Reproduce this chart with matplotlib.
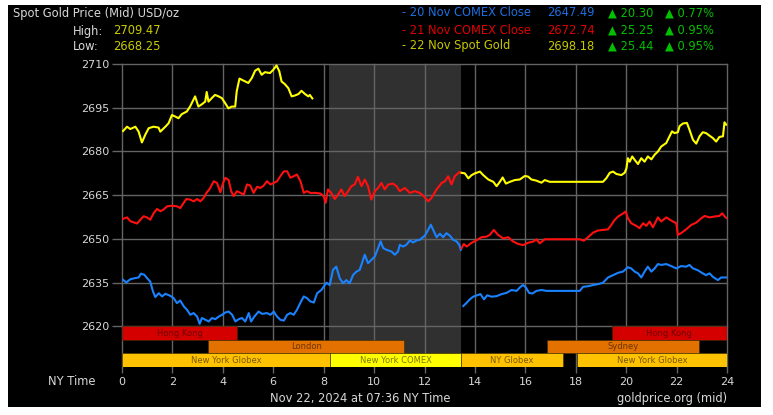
import matplotlib
matplotlib.use("Agg")
import matplotlib.pyplot as plt
from matplotlib.patches import Rectangle

# --- price traces (NY time in hours, USD/oz) ---
# 22 Nov spot gold, morning
yellow_hours_a = [0.04, 0.2, 0.33, 0.53, 0.66, 0.79, 0.92, 1.06, 1.25, 1.45, 1.52, 1.72, 1.85, 1.98,
                  2.11, 2.24, 2.37, 2.57, 2.7, 2.9, 3.03, 3.17, 3.3, 3.36, 3.43, 3.56, 3.69, 3.83,
                  3.96, 4.09, 4.22, 4.35, 4.49, 4.55, 4.66, 4.82, 5.01, 5.15, 5.28, 5.41, 5.54, 5.67,
                  5.87, 6.0, 6.13, 6.24, 6.33, 6.46, 6.6, 6.73, 6.86, 7.0, 7.12, 7.26, 7.39, 7.45, 7.55]
yellow_prices_a = [2687.0, 2688.5, 2687.7, 2688.5, 2686.8, 2683.1, 2685.7, 2688.0, 2688.5, 2688.2,
                   2686.8, 2688.5, 2689.7, 2692.5, 2692.0, 2691.4, 2692.8, 2693.7, 2695.4, 2698.9,
                   2695.4, 2696.2, 2697.1, 2700.4, 2697.1, 2698.3, 2699.4, 2698.9, 2698.3, 2696.6,
                   2694.8, 2695.4, 2695.4, 2700.6, 2705.0, 2704.3, 2703.5, 2705.2, 2707.7, 2708.4,
                   2706.3, 2707.2, 2706.9, 2708.0, 2709.5, 2707.5, 2704.0, 2703.1, 2701.7, 2698.9,
                   2699.2, 2699.7, 2700.8, 2699.7, 2698.9, 2699.4, 2698.2]
# 21 Nov spot gold, afternoon
yellow_hours_b = [13.47, 13.6, 13.74, 13.87, 14.0, 14.2, 14.33, 14.53, 14.73, 14.86, 14.99, 15.1,
                  15.23, 15.39, 15.58, 15.78, 15.98, 16.11, 16.24, 16.44, 16.64, 16.77, 16.97, 19.08,
                  19.21, 19.35, 19.48, 19.61, 19.81, 19.94, 20.01, 20.07, 20.14, 20.24, 20.34, 20.47,
                  20.6, 20.73, 20.86, 21.0, 21.13, 21.26, 21.39, 21.59, 21.72, 21.82, 21.92, 22.05,
                  22.12, 22.25, 22.41, 22.51, 22.65, 22.78, 22.91, 23.04, 23.17, 23.31, 23.44, 23.57,
                  23.7, 23.84, 23.9, 23.97]
yellow_prices_b = [2672.7, 2672.5, 2670.8, 2671.9, 2672.5, 2673.1, 2671.9, 2670.4, 2669.6, 2668.1,
                   2669.6, 2671.1, 2669.0, 2669.6, 2670.2, 2670.4, 2671.6, 2671.4, 2670.4, 2670.0,
                   2669.3, 2670.2, 2669.6, 2669.6, 2670.8, 2672.7, 2673.1, 2672.3, 2671.9, 2672.7,
                   2674.2, 2677.7, 2676.5, 2678.3, 2677.1, 2675.7, 2677.7, 2676.5, 2678.3, 2677.3,
                   2678.9, 2680.0, 2681.7, 2682.9, 2685.2, 2686.9, 2686.3, 2686.6, 2688.7, 2689.6,
                   2689.8, 2687.5, 2684.0, 2682.7, 2685.2, 2686.6, 2686.3, 2685.4, 2684.6, 2683.4,
                   2685.0, 2685.2, 2690.0, 2689.2]

# 21 Nov COMEX session
red_hours_a = [0.04, 0.2, 0.33, 0.46, 0.6, 0.73, 0.86, 0.99, 1.12, 1.26, 1.39, 1.52, 1.65, 1.79,
               1.98, 2.18, 2.31, 2.45, 2.55, 2.71, 2.84, 2.98, 3.11, 3.24, 3.35, 3.48, 3.64, 3.77,
               3.9, 4.01, 4.1, 4.23, 4.33, 4.43, 4.56, 4.7, 4.83, 4.96, 5.09, 5.22, 5.36, 5.49,
               5.62, 5.75, 5.89, 6.02, 6.15, 6.28, 6.42, 6.55, 6.68, 6.81, 6.94, 7.08, 7.21, 7.34,
               7.47, 7.67, 7.87, 8.0, 8.08, 8.17, 8.3, 8.44, 8.57, 8.7, 8.83, 8.97, 9.1, 9.23,
               9.36, 9.5, 9.63, 9.76, 9.89, 10.03, 10.16, 10.29, 10.42, 10.56, 10.75, 10.89, 11.02,
               11.22, 11.42, 11.62, 11.81, 11.97, 12.15, 12.28, 12.48, 12.68, 12.81, 12.94, 13.07,
               13.2, 13.38, 13.47]
red_prices_a = [2656.9, 2657.4, 2656.1, 2655.7, 2655.3, 2656.6, 2657.8, 2657.4, 2656.6, 2658.9,
                2660.3, 2659.5, 2660.1, 2661.2, 2661.4, 2661.2, 2660.6, 2662.4, 2663.7, 2663.5,
                2662.9, 2663.7, 2662.9, 2664.1, 2665.8, 2667.2, 2669.8, 2669.2, 2666.0, 2669.2,
                2671.0, 2670.2, 2666.4, 2664.7, 2666.4, 2665.8, 2665.2, 2668.7, 2668.3, 2665.8,
                2667.9, 2667.5, 2668.3, 2669.8, 2668.7, 2669.2, 2669.8, 2671.5, 2673.2, 2673.2,
                2671.0, 2671.5, 2672.1, 2669.8, 2665.8, 2666.4, 2665.8, 2665.8, 2665.6, 2664.7,
                2662.4, 2667.0, 2665.8, 2663.7, 2665.2, 2667.0, 2664.7, 2666.4, 2668.1, 2668.7,
                2671.3, 2668.1, 2670.4, 2668.1, 2663.5, 2666.4, 2667.5, 2669.2, 2667.0, 2668.7,
                2669.0, 2668.1, 2666.4, 2667.5, 2665.8, 2666.4, 2665.8, 2664.7, 2662.9, 2664.1,
                2667.0, 2669.2, 2669.8, 2671.5, 2668.7, 2671.5, 2672.9, 2672.7]
# 20 Nov afternoon
red_hours_b = [13.47, 13.56, 13.67, 13.87, 14.07, 14.26, 14.46, 14.59, 14.75, 14.92, 15.12, 15.32,
               15.52, 15.72, 15.91, 16.11, 16.31, 16.44, 16.57, 16.77, 16.97, 18.16, 18.32, 18.49,
               18.69, 18.88, 19.08, 19.28, 19.41, 19.54, 19.68, 19.85, 19.98, 20.07, 20.2, 20.4,
               20.53, 20.67, 20.8, 20.93, 21.06, 21.26, 21.39, 21.59, 21.72, 21.85, 21.99, 22.05,
               22.18, 22.38, 22.58, 22.78, 22.98, 23.11, 23.31, 23.51, 23.7, 23.81, 23.94, 24.0]
red_prices_b = [2646.8, 2648.3, 2647.4, 2648.7, 2649.6, 2650.6, 2650.8, 2651.4, 2653.1, 2651.4,
                2650.2, 2650.6, 2649.1, 2648.3, 2647.9, 2648.7, 2649.1, 2649.9, 2648.5, 2649.9,
                2649.9, 2649.9, 2649.4, 2650.6, 2652.2, 2652.9, 2653.1, 2653.3, 2654.8, 2656.5,
                2657.7, 2658.6, 2659.4, 2657.1, 2655.4, 2654.5, 2653.7, 2655.4, 2654.5, 2656.0,
                2654.0, 2657.4, 2656.0, 2657.4, 2656.7, 2656.0, 2655.4, 2651.4, 2652.0, 2653.3,
                2654.8, 2655.6, 2657.1, 2657.9, 2657.4, 2657.7, 2657.9, 2658.8, 2657.4, 2657.1]

# 20 Nov COMEX session
blue_hours_a = [0.04, 0.17, 0.33, 0.53, 0.66, 0.75, 0.89, 0.99, 1.12, 1.23, 1.32, 1.46, 1.59, 1.72,
                1.92, 2.05, 2.18, 2.31, 2.45, 2.58, 2.71, 2.84, 2.98, 3.08, 3.17, 3.31, 3.44, 3.57,
                3.7, 3.84, 3.97, 4.1, 4.23, 4.37, 4.5, 4.63, 4.76, 4.89, 5.03, 5.12, 5.25, 5.42,
                5.56, 5.75, 5.89, 6.02, 6.15, 6.28, 6.42, 6.55, 6.68, 6.81, 6.94, 7.08, 7.21, 7.34,
                7.47, 7.61, 7.74, 7.91, 8.11, 8.24, 8.37, 8.5, 8.64, 8.77, 8.9, 9.03, 9.17, 9.3,
                9.43, 9.56, 9.63, 9.76, 9.89, 10.03, 10.16, 10.26, 10.36, 10.49, 10.69, 10.82, 10.95,
                11.02, 11.15, 11.28, 11.42, 11.55, 11.68, 11.81, 12.01, 12.15, 12.25, 12.34, 12.48,
                12.61, 12.74, 12.87, 13.01, 13.14, 13.27, 13.38, 13.44]
blue_prices_a = [2636.0, 2635.1, 2636.2, 2636.6, 2636.8, 2638.1, 2637.7, 2636.6, 2635.4, 2632.0,
                 2630.1, 2631.4, 2630.3, 2631.2, 2630.5, 2629.7, 2628.0, 2628.9, 2626.9, 2625.7,
                 2624.0, 2624.6, 2623.4, 2620.9, 2622.9, 2622.3, 2621.7, 2622.9, 2622.5, 2623.4,
                 2624.0, 2624.8, 2625.1, 2624.0, 2621.7, 2622.5, 2622.9, 2621.7, 2624.6, 2621.7,
                 2623.4, 2625.1, 2624.3, 2624.6, 2624.0, 2625.1, 2623.4, 2622.3, 2622.0, 2624.0,
                 2624.6, 2624.0, 2625.7, 2628.2, 2630.3, 2629.7, 2628.6, 2628.2, 2631.4, 2632.5,
                 2635.0, 2634.2, 2639.4, 2640.5, 2636.5, 2634.8, 2635.9, 2634.8, 2637.7, 2638.8,
                 2639.4, 2642.8, 2644.6, 2641.7, 2642.8, 2644.0, 2646.9, 2649.2, 2646.9, 2646.3,
                 2645.7, 2644.6, 2645.7, 2648.0, 2647.4, 2648.0, 2649.5, 2648.8, 2649.5, 2649.7,
                 2651.1, 2653.2, 2654.9, 2653.2, 2650.6, 2651.8, 2650.6, 2652.0, 2651.1, 2649.7,
                 2649.2, 2648.0, 2646.3]
# 19 Nov afternoon
blue_hours_b = [13.54, 13.67, 13.8, 13.93, 14.09, 14.22, 14.36, 14.49, 14.66, 14.86, 15.06, 15.25,
                15.45, 15.65, 15.81, 15.91, 16.02, 16.15, 16.28, 16.44, 16.64, 16.84, 18.16, 18.29,
                18.49, 18.69, 18.88, 19.08, 19.28, 19.48, 19.68, 19.87, 20.07, 20.2, 20.34, 20.47,
                20.6, 20.73, 20.86, 21.0, 21.13, 21.26, 21.39, 21.59, 21.79, 21.99, 22.18, 22.38,
                22.51, 22.65, 22.84, 23.04, 23.17, 23.31, 23.44, 23.64, 23.77, 23.97]
blue_prices_b = [2627.0, 2628.1, 2629.3, 2630.2, 2630.7, 2631.1, 2629.3, 2630.7, 2630.2, 2630.4,
                 2631.1, 2631.5, 2632.5, 2632.2, 2633.6, 2634.2, 2633.4, 2631.5, 2631.3, 2632.2,
                 2632.5, 2632.2, 2632.2, 2633.6, 2633.8, 2634.2, 2634.5, 2635.0, 2636.8, 2637.6,
                 2638.4, 2638.8, 2640.3, 2639.9, 2638.8, 2638.2, 2636.8, 2638.8, 2640.5, 2638.8,
                 2639.9, 2641.4, 2641.1, 2641.4, 2640.7, 2639.9, 2640.7, 2640.5, 2641.1, 2639.9,
                 2639.3, 2638.2, 2637.6, 2638.2, 2637.0, 2635.9, 2636.8, 2636.8]

# --- trading sessions: (row, start, end, name) ---
session_rows = [0, 0, 1, 1, 2, 2, 2, 2]
session_starts = [0.0, 19.43, 3.42, 16.85, 0.0, 8.25, 13.45, 18.04]
session_ends = [4.57, 24.0, 11.2, 22.89, 8.25, 13.45, 17.48, 24.0]
session_names = ["Hong Kong", "Hong Kong", "London", "Sydney", "New York Globex",
                 "New York COMEX", "NY Globex", "New York Globex"]
session_kinds = ["hk", "hk", "ldn", "ldn", "glx", "cmx", "glx", "glx"]

comex_open, comex_close = 8.2, 13.45

header_labels = ["- 20 Nov COMEX Close", "- 21 Nov COMEX Close", "- 22 Nov Spot Gold"]
header_prices = ["2647.49", "2672.74", "2698.18"]
header_changes = ["20.30", "25.25", "25.44"]
header_pcts = ["0.77%", "0.95%", "0.95%"]
high_price, low_price = "2709.47", "2668.25"

y_ticks = [2620, 2635, 2650, 2665, 2680, 2695, 2710]
x_ticks = list(range(0, 25, 2))

BLUE = "#1a82ff"
RED = "#ff1010"
YELLOW = "#ffff00"
GRID = "#646464"
TXT = "#d8d8d8"
fills = {"hk": "#d40000", "ldn": "#e37100", "glx": "#ffc200", "cmx": "#ffff00"}
inks = {"hk": "#6e0000", "ldn": "#6a3300", "glx": "#7a5800", "cmx": "#7a7a00"}

plt.rcParams["font.family"] = "DejaVu Sans"

W, H = 773, 415
fig = plt.figure(figsize=(W / 100, H / 100), dpi=100, facecolor="white")
fig.patches.append(Rectangle((8 / W, 1 - 407 / H), (761 - 8) / W, (407 - 5) / H,
                             transform=fig.transFigure, facecolor="black",
                             edgecolor="none", zorder=-10))

ax = fig.add_axes([122 / W, 1 - 367 / H, (727 - 122) / W, (367 - 64) / H])
ax.set_facecolor("black")
ymin = 2606.1
ax.set_xlim(0, 24)
ax.set_ylim(ymin, 2710)

row_edges = [(2615.4, 2620.0), (2610.8, 2615.4), (ymin, 2610.8)]

# COMEX shading
ax.add_patch(Rectangle((comex_open, row_edges[1][0]), comex_close - comex_open,
                       2710 - row_edges[1][0], facecolor="#303030", edgecolor="none", zorder=0))

# grid
for yv in y_ticks:
    ax.plot([0, 24], [yv, yv], color=GRID, lw=1, zorder=1, clip_on=False)
for xv in x_ticks:
    ax.plot([xv, xv], [ymin, 2710], color=GRID, lw=1, zorder=1, clip_on=False)

# sessions
for row, s, e, name, kind in zip(session_rows, session_starts, session_ends,
                                 session_names, session_kinds):
    lo, hi = row_edges[row]
    ax.add_patch(Rectangle((s, lo), e - s, hi - lo, facecolor=fills[kind],
                           edgecolor="#3a2a00", lw=0.4, zorder=2))
    ax.text((s + e) / 2, (lo + hi) / 2, name, ha="center", va="center",
            fontsize=6, color=inks[kind], zorder=3)

# price lines
for hrs, prc, col in [(blue_hours_a, blue_prices_a, BLUE), (blue_hours_b, blue_prices_b, BLUE),
                      (red_hours_a, red_prices_a, RED), (red_hours_b, red_prices_b, RED),
                      (yellow_hours_a, yellow_prices_a, YELLOW),
                      (yellow_hours_b, yellow_prices_b, YELLOW)]:
    ax.plot(hrs, prc, color=col, lw=1.5, zorder=4, solid_joinstyle="round")

for sp in ax.spines.values():
    sp.set_visible(False)
ax.set_yticks(y_ticks)
ax.set_xticks(x_ticks)
ax.tick_params(axis="y", length=7, width=1, color=GRID, labelcolor=TXT, labelsize=8, pad=2)
ax.tick_params(axis="x", length=4, width=1, color=GRID, labelcolor=TXT, labelsize=8, pad=3)

# header and footer text
fs = 8.3
fig.text(13 / W, 1 - 14 / H, "Spot Gold Price (Mid) USD/oz", color=TXT, fontsize=fs, va="center")
fig.text(73 / W, 1 - 31 / H, "High:", color=TXT, fontsize=fs, va="center")
fig.text(113 / W, 1 - 31 / H, high_price, color="#cccc00", fontsize=fs, va="center")
fig.text(73 / W, 1 - 47 / H, "Low:", color=TXT, fontsize=fs, va="center")
fig.text(113 / W, 1 - 47 / H, low_price, color="#cccc00", fontsize=fs, va="center")

row_y = [13, 30, 46]
row_cols = ["#1e6fe0", "#e00000", "#c8c800"]
for yy, col, lab, pr, ch, pc in zip(row_y, row_cols, header_labels, header_prices,
                                    header_changes, header_pcts):
    fy = 1 - yy / H
    fig.text(402 / W, fy, lab, color=col, fontsize=fs, va="center")
    fig.text(547 / W, fy, pr, color=col, fontsize=fs, va="center")
    fig.text(608 / W, fy, "\u25b2 " + ch, color="#00c000", fontsize=fs, va="center")
    fig.text(665 / W, fy, "\u25b2 " + pc, color="#00c000", fontsize=fs, va="center")

fig.text(96 / W, 1 - 381 / H, "NY Time", color=TXT, fontsize=fs, ha="right", va="center")
fig.text(270 / W, 1 - 398 / H, "Nov 22, 2024 at 07:36 NY Time", color=TXT, fontsize=fs,
         va="center")
fig.text(727 / W, 1 - 398 / H, "goldprice.org (mid)", color=TXT, fontsize=fs, ha="right",
         va="center")

fig.savefig("out.png", dpi=100, facecolor="white")
